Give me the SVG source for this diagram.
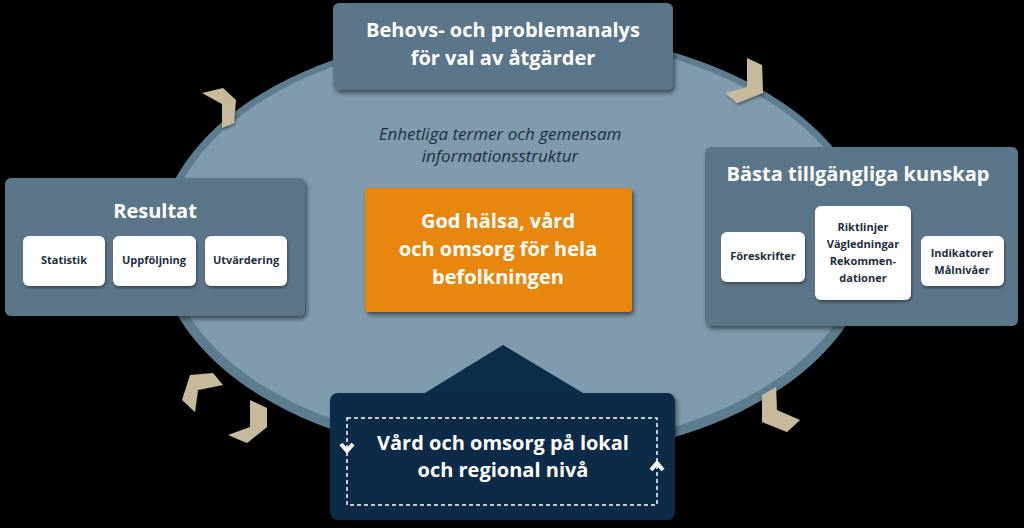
<svg xmlns="http://www.w3.org/2000/svg" width="1024" height="528" viewBox="0 0 1024 528">
<style>
.box{fill:#5b7689;filter:url(#sh)}
.w{fill:#fff;filter:url(#sh2)}
.t{font-family:"Open Sans","Liberation Sans",sans-serif;font-weight:bold;fill:#fff;text-anchor:middle}
.s{font-family:"Open Sans","Liberation Sans",sans-serif;font-weight:bold;fill:#1b2e40;text-anchor:middle;font-size:11px}
.chev{fill:#c6b99c;filter:url(#sh2)}
</style>
<defs>
<filter id="sh" x="-10%" y="-10%" width="130%" height="130%"><feDropShadow dx="2" dy="3" stdDeviation="2" flood-opacity="0.5"/></filter>
<filter id="sh2" x="-20%" y="-20%" width="150%" height="150%"><feDropShadow dx="1" dy="2" stdDeviation="1.5" flood-opacity="0.4"/></filter>
</defs>
<rect width="1024" height="528" fill="#000"/>
<ellipse cx="515" cy="245" rx="357" ry="215" fill="#5e7c90"/>
<ellipse cx="515" cy="243" rx="348" ry="207" fill="#7f9bad"/>
<g id="connectors">
<polygon class="chev" points="202,93 223,88 236,100 234,123 222,128 222,104"/>
<polygon class="chev" points="747,58 762,65 763,93 737,103 725,93 747,87"/>
<polygon class="chev" points="762,395 776,387 777,410 800,420 787,432 762,422"/>
<polygon class="chev" points="190,375 213,373 223,385 198,390 195,412 182,400"/>
<polygon class="chev" points="250,400 267,408 267,427 247,443 228,435 250,427"/>
</g>
<text x="500" y="140" font-family="'Century Gothic','Open Sans','Liberation Sans',sans-serif" font-style="italic" font-size="17" fill="#1d2f44" text-anchor="middle">Enhetliga termer och gemensam</text>
<text x="500" y="162" font-family="'Century Gothic','Open Sans','Liberation Sans',sans-serif" font-style="italic" font-size="17" fill="#1d2f44" text-anchor="middle">informationsstruktur</text>
<g id="top">
<rect class="box" x="333" y="3" width="340" height="87" rx="6"/>
<text class="t" x="503" y="37" font-size="20">Behovs- och problemanalys</text>
<text class="t" x="503" y="65" font-size="20">för val av åtgärder</text>
</g>
<g id="resultat">
<rect class="box" x="5" y="178" width="300" height="138" rx="6"/>
<text class="t" x="155" y="218" font-size="20">Resultat</text>
<rect class="w" x="23" y="236" width="82" height="50" rx="6"/>
<rect class="w" x="113" y="236" width="83" height="50" rx="6"/>
<rect class="w" x="205" y="236" width="82" height="50" rx="6"/>
<text class="s" x="64" y="264">Statistik</text>
<text class="s" x="154" y="264">Uppföljning</text>
<text class="s" x="246" y="264">Utvärdering</text>
</g>
<g id="kunskap">
<rect class="box" x="705" y="147" width="313" height="179" rx="6"/>
<text class="t" x="858" y="181" font-size="20">Bästa tillgängliga kunskap</text>
<rect class="w" x="721" y="232" width="84" height="50" rx="6"/>
<rect class="w" x="815" y="206" width="96" height="94" rx="6"/>
<rect class="w" x="921" y="236" width="83" height="50" rx="6"/>
<text class="s" x="763" y="260">Föreskrifter</text>
<text class="s" x="863" y="231">Riktlinjer</text>
<text class="s" x="863" y="248">Vägledningar</text>
<text class="s" x="863" y="265">Rekommen-</text>
<text class="s" x="863" y="282">dationer</text>
<text class="s" x="962" y="257">Indikatorer</text>
<text class="s" x="962" y="274">Målnivåer</text>
</g>
<g id="center">
<rect x="365" y="188" width="267" height="124" rx="4" fill="#e8870b" filter="url(#sh)"/>
<text class="t" x="498" y="228" font-size="20">God hälsa, vård</text>
<text class="t" x="498" y="256" font-size="20">och omsorg för hela</text>
<text class="t" x="498" y="284" font-size="20">befolkningen</text>
</g>
<g id="bottom">
<path d="M420,396 L503,345 L588,396 Z" fill="#0d2c47"/>
<rect x="330" y="393" width="345" height="127" rx="8" fill="#0d2c47" filter="url(#sh)"/>
<rect x="347" y="418" width="310" height="87" fill="none" stroke="#fff" stroke-width="1.5" stroke-dasharray="4,3"/>
<polyline points="341,444 347,451 353,444" fill="none" stroke="#fff" stroke-width="4"/>
<polyline points="651,470 657,463 663,470" fill="none" stroke="#fff" stroke-width="4"/>
<text class="t" x="503" y="450" font-size="20">Vård och omsorg på lokal</text>
<text class="t" x="503" y="477" font-size="20">och regional nivå</text>
</g>
</svg>
